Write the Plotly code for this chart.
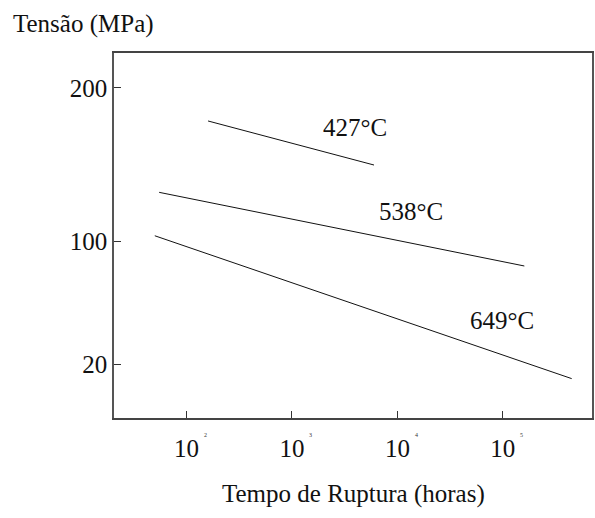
import math
import plotly.graph_objects as go

# Data
series_names = ["427°C", "538°C", "649°C"]
rupture_time_h = [
    [160, 6000],
    [55, 160000],
    [50, 450000],
]
stress_mpa = [
    [178.5, 149.8],
    [132.0, 84.0],
    [103.7, 10.6],
]
label_time_h = [3990, 13540, 99000]
label_stress = [174.3, 119.8, 48.8]

y_tick_vals = [200, 100, 20]
y_tick_text = ["200", "100", "20"]
x_tick_vals = [1e2, 1e3, 1e4, 1e5]
x_tick_base = ["10", "10", "10", "10"]
x_tick_exp = ["2", "3", "4", "5"]

FONT = "Liberation Serif, Times New Roman, serif"

fig = go.Figure()
for name, xs, ys in zip(series_names, rupture_time_h, stress_mpa):
    fig.add_trace(go.Scatter(x=xs, y=ys, mode="lines", name=name,
                             line=dict(color="#111111", width=1), showlegend=False))

annotations = []
for name, xv, yv in zip(series_names, label_time_h, label_stress):
    annotations.append(dict(x=math.log10(xv), y=yv, xref="x", yref="y", text=name,
                            showarrow=False, font=dict(family=FONT, size=25, color="#111"),
                            xanchor="center", yanchor="middle"))
# tiny exponents next to the "10" tick labels
for tv, ex in zip(x_tick_vals, x_tick_exp):
    annotations.append(dict(x=math.log10(tv), y=-0.046, xref="x", yref="paper", text=ex,
                            showarrow=False, xshift=19, xanchor="center", yanchor="middle",
                            font=dict(family=FONT, size=6, color="#333")))
annotations.append(dict(x=-0.215, y=1.08, xref="paper", yref="paper", text="Tensão (MPa)",
                        showarrow=False, xanchor="left", yanchor="middle",
                        font=dict(family=FONT, size=25, color="#111")))
annotations.append(dict(x=0.5, y=-0.208, xref="paper", yref="paper",
                        text="Tempo de Ruptura (horas)", showarrow=False,
                        xanchor="center", yanchor="middle",
                        font=dict(family=FONT, size=25, color="#111")))

fig.update_layout(
    width=595, height=518,
    margin=dict(l=114, r=1, t=53, b=100),
    paper_bgcolor="white", plot_bgcolor="white",
    font=dict(family=FONT, size=25, color="#111"),
    annotations=annotations,
    xaxis=dict(type="log", range=[1.312, 5.846], tickvals=x_tick_vals, ticktext=x_tick_base,
               ticks="inside", ticklen=7, tickwidth=1, tickcolor="#333",
               showline=True, linecolor="#444", linewidth=1.5, mirror=True,
               showgrid=False, zeroline=False, ticklabelstandoff=7,
               tickfont=dict(family=FONT, size=25, color="#111")),
    yaxis=dict(range=[-15.06, 222.8], tickvals=y_tick_vals, ticktext=y_tick_text,
               ticks="inside", ticklen=7, tickwidth=1, tickcolor="#333",
               showline=True, linecolor="#555", linewidth=1.5, mirror=True,
               showgrid=False, zeroline=False, ticklabelstandoff=0,
               tickfont=dict(family=FONT, size=25, color="#111")),
)

fig.write_html("out.html", config={"displayModeBar": False},
               post_script="document.body.style.margin='0px';document.body.style.overflow='hidden';")
